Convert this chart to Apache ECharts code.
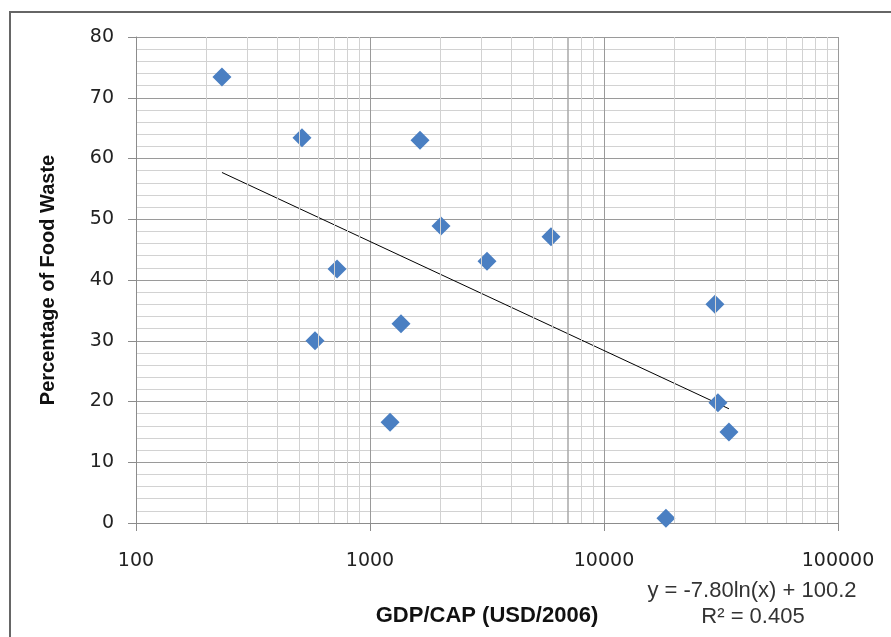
<!DOCTYPE html>
<html>
<head>
<meta charset="utf-8">
<script src="https://cdn.jsdelivr.net/npm/echarts@6/dist/echarts.min.js"></script>
<style>
html,body{margin:0;padding:0;background:#fff;}
#c{width:891px;height:637px;}
</style>
</head>
<body>
<div id="c"></div>
<script>
// GDP per capita (USD/2006) and percentage of food waste
const gdp   = [233, 512, 1636, 2011, 5935, 3162, 723, 1357, 582, 1218, 29790, 30690, 34200, 18400];
const waste = [73.4, 63.4, 63.0, 48.9, 47.1, 43.1, 41.8, 32.8, 30.0, 16.6, 36.0, 19.8, 15.0, 0.8];
// logarithmic trendline end points
const trendX = [233, 34200];
const trendY = [57.7, 18.8];
// minor vertical gridlines of the log axis
const minorX = [200,300,400,500,600,700,800,900,
                2000,3000,4000,5000,6000,8000,9000,
                20000,30000,40000,50000,60000,70000,80000,90000];
const darkMinorX = [7000];
const equationText = 'y = -7.80ln(x) + 100.2';
const r2Text = 'R² = 0.405';
const xTitle = 'GDP/CAP (USD/2006)';
const yTitle = 'Percentage of Food Waste';

const chart = echarts.init(document.getElementById('c'));
const labelFont = 'DejaVu Sans, Verdana, sans-serif';
const titleFont = '"Liberation Sans", Arial, sans-serif';

chart.setOption({
  animation: false,
  backgroundColor: '#fff',
  grid: {left: 136, top: 37, right: 53, bottom: 114, containLabel: false},
  xAxis: {
    type: 'log', logBase: 10, min: 100, max: 100000,
    axisLine: {show: true, onZero: false, lineStyle: {color: '#8c8c8c', width: 1}},
    axisTick: {show: true, length: 8, lineStyle: {color: '#8c8c8c'}},
    axisLabel: {fontFamily: labelFont, fontSize: 19, color: '#222', margin: 29,
      formatter: v => String(Math.round(v))},
    splitLine: {show: true, lineStyle: {color: '#9a9a9a', width: 1}},
    name: xTitle, nameLocation: 'middle', nameGap: 82,
    nameTextStyle: {fontFamily: titleFont, fontWeight: 'bold', fontSize: 22, color: '#111'}
  },
  yAxis: {
    type: 'value', min: 0, max: 80, interval: 10,
    axisLine: {show: true, lineStyle: {color: '#8c8c8c', width: 1}},
    axisTick: {show: true, length: 8, lineStyle: {color: '#8c8c8c'}},
    axisLabel: {fontFamily: labelFont, fontSize: 19, color: '#222', margin: 22},
    splitLine: {show: true, lineStyle: {color: '#9a9a9a', width: 1}},
    minorTick: {show: false, splitNumber: 5},
    minorSplitLine: {show: true, lineStyle: {color: '#d2d2d2', width: 1}},
    name: yTitle, nameLocation: 'middle', nameGap: 78,
    nameTextStyle: {fontFamily: titleFont, fontWeight: 'bold', fontSize: 20, color: '#111'}
  },
  series: [
    {
      type: 'line', data: [], silent: true, z: 1,
      markLine: {
        silent: true, symbol: ['none','none'], label: {show: false},
        animation: false,
        data: minorX.map(v => ({xAxis: v, lineStyle: {color: '#d2d2d2', width: 1, type: 'solid'}}))
          .concat(darkMinorX.map(v => ({xAxis: v, lineStyle: {color: '#a8a8a8', width: 1.5, type: 'solid'}})))
      }
    },
    {
      type: 'line', z: 3,
      data: trendX.map((x, i) => [x, trendY[i]]),
      symbol: 'none', lineStyle: {color: '#000', width: 1}
    },
    {
      type: 'scatter', z: 4,
      data: gdp.map((x, i) => [x, waste[i]]),
      symbol: 'diamond', symbolSize: 19,
      itemStyle: {color: '#4a7fc2', opacity: 1}
    }
  ],
  graphic: [
    {type: 'rect', shape: {x: 10, y: 12, width: 1000, height: 800},
     style: {fill: 'none', stroke: '#666', lineWidth: 2}, z: 100, silent: true},
    {type: 'text', x: 752, y: 591, style: {text: equationText, fontFamily: titleFont, fontSize: 22,
      fill: '#333', align: 'center', verticalAlign: 'middle'}},
    {type: 'text', x: 753, y: 617, style: {text: r2Text, fontFamily: titleFont, fontSize: 22,
      fill: '#333', align: 'center', verticalAlign: 'middle'}}
  ]
});
</script>
</body>
</html>
